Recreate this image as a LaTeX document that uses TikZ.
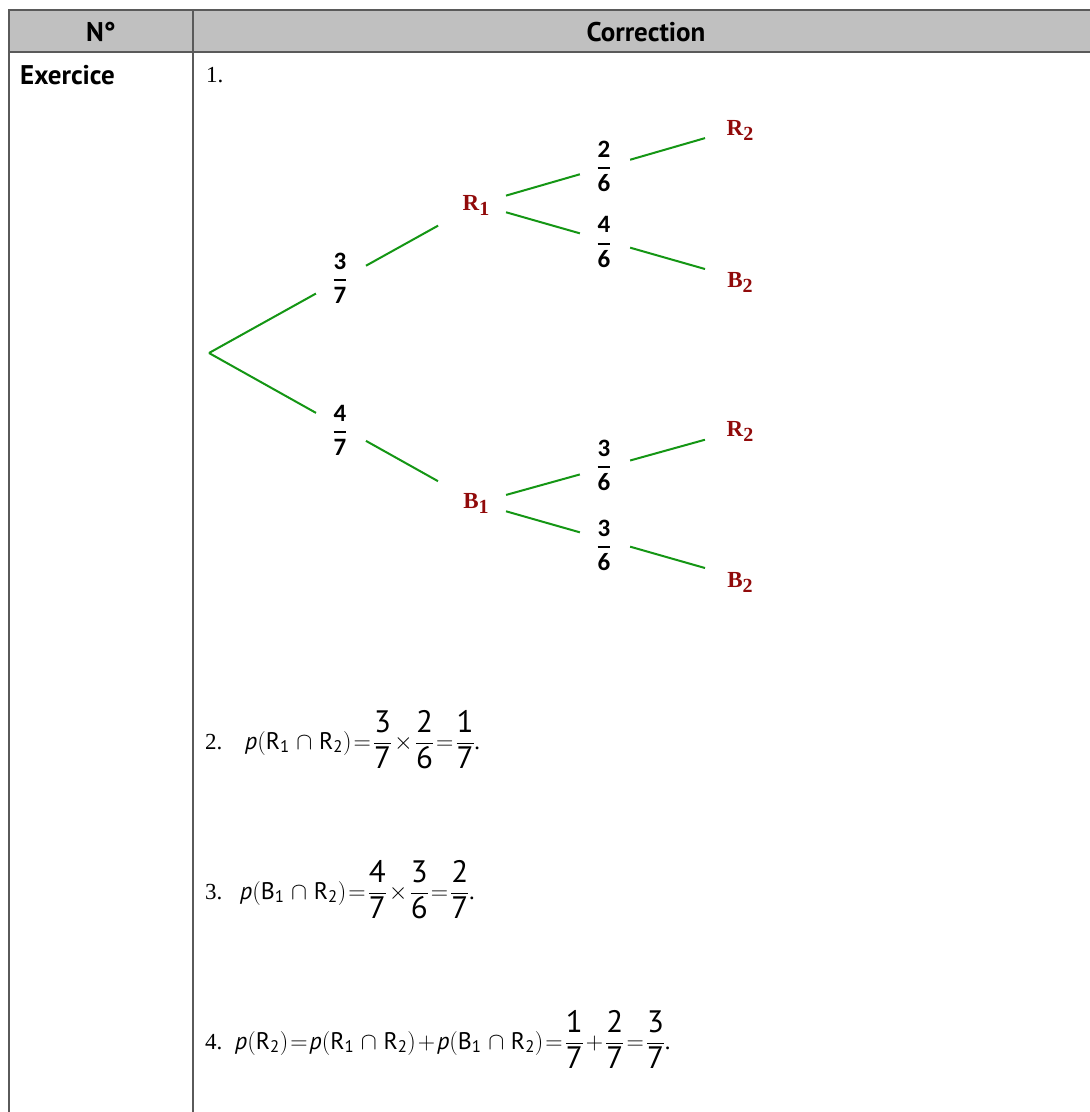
\documentclass[tikz,border=0pt]{standalone}
\usepackage{fix-cm}
\usepackage{amsmath}
\usepackage{fontspec}
\setmainfont{PT Sans}
\newfontfamily\tmsfont{Liberation Serif}
\newfontfamily\calfont{Carlito}
\definecolor{brgreen}{RGB}{20,150,20}
\definecolor{labred}{RGB}{145,10,10}
\definecolor{hdrgray}{RGB}{192,192,192}
\definecolor{bordergray}{RGB}{90,90,90}
\newcommand\Sub[2]{#1\raisebox{-5pt}{\fontsize{20}{20}\selectfont #2}}
\newcommand\pf[2]{$\genfrac{}{}{1.8pt}{0}{\text{#1}}{\text{#2}}$}
\newcommand\fr[2]{\dfrac{\text{\fontsize{31}{31}\selectfont #1}}{\text{\fontsize{31}{31}\selectfont #2}}}
\newcommand\pr{\text{\itshape p}}
\newcommand\ev[2]{\text{#1}_{\text{#2}}}
\newcommand\inter{\mskip3.5mu\cap\mskip3.5mu}
\tikzset{
  branch/.style={draw=brgreen, line width=2pt},
  gap/.style={sloped, fill=white, inner sep=0pt, minimum height=5pt},
  lbl/.style={text=labred, font=\tmsfont\bfseries\fontsize{23}{23}\selectfont, inner sep=0pt},
  prob/.style={font=\calfont\bfseries\fontsize{25}{25}\selectfont, inner sep=0pt},
  hdrtext/.style={font=\bfseries\fontsize{27}{27}\selectfont, inner sep=0pt},
  itemnum/.style={font=\tmsfont\fontsize{23}{23}\selectfont, inner sep=0pt, anchor=base west},
  formula/.style={font=\fontsize{24}{28}\selectfont, inner sep=0pt, anchor=base west,
    execute at begin node={\thickmuskip=1.5mu\medmuskip=1.5mu\thinmuskip=1mu}},
  tableline/.style={draw=bordergray, line width=1.6pt}
}
\begin{document}
\begin{tikzpicture}[x=1pt,y=-1pt]
\useasboundingbox[fill=white] (0,0) rectangle (1090,1112);
% table
\fill[hdrgray] (9,10) rectangle (1090,52);
\draw[tableline] (1090,10) -- (9,10) -- (9,1112);
\draw[tableline] (9,52) -- (1090,52);
\draw[tableline] (193,10) -- (193,1112);
\node[hdrtext] (hN) at (101,32) {N°};
\node[hdrtext] (hC) at (646,32) {Correction};
\node[hdrtext, anchor=west] (ex) at (20,75) {Exercice};
\node[itemnum, anchor=west] (one) at (206,75) {1.};
% tree points
\coordinate (root) at (209,353);
\coordinate (pR1) at (477,204);
\coordinate (pB1) at (477,503);
\coordinate (pR2a) at (740,128);
\coordinate (pB2a) at (740,279);
\coordinate (pR2b) at (740,430);
\coordinate (pB2b) at (740,578);
% branches
\draw[branch, shorten >=44.5pt] (root) -- node[gap, pos=0.4925, minimum width=57pt]{} (pR1);
\draw[branch, shorten >=44.7pt] (root) -- node[gap, pos=0.4925, minimum width=57pt]{} (pB1);
\draw[branch, shorten <=30.2pt, shorten >=36.4pt] (pR1) -- node[gap, pos=0.4867, minimum width=52pt]{} (pR2a);
\draw[branch, shorten <=30.2pt, shorten >=36.4pt] (pR1) -- node[gap, pos=0.4867, minimum width=52pt]{} (pB2a);
\draw[branch, shorten <=30.2pt, shorten >=36.4pt] (pB1) -- node[gap, pos=0.4867, minimum width=52pt]{} (pR2b);
\draw[branch, shorten <=30.2pt, shorten >=36.4pt] (pB1) -- node[gap, pos=0.4867, minimum width=52pt]{} (pB2b);
% labels
\node[lbl] (R1) at (476,205) {\Sub R1};
\node[lbl] (B1) at (476,503) {\Sub B1};
\node[lbl] (R2a) at (740,130) {\Sub R2};
\node[lbl] (B2a) at (740,282) {\Sub B2};
\node[lbl] (R2b) at (740,431) {\Sub R2};
\node[lbl] (B2b) at (740,582) {\Sub B2};
\node[prob] (f37) at (340,278) {\pf37};
\node[prob] (f47) at (340,430) {\pf47};
\node[prob] (f26) at (604,166) {\pf26};
\node[prob] (f46) at (604,242) {\pf46};
\node[prob] (f36a) at (604,465) {\pf36};
\node[prob] (f36b) at (604,545) {\pf36};
% answers
\node[itemnum] (n2) at (205,749) {2.};
\node[formula] (q2) at (245,749) {$\pr(\ev R1\inter\ev R2)=\fr37\times\fr26=\fr17$.};
\node[itemnum] (n3) at (205,899) {3.};
\node[formula] (q3) at (240,899) {$\pr(\ev B1\inter\ev R2)=\fr47\times\fr36=\fr27$.};
\node[itemnum] (n4) at (205,1049) {4.};
\node[formula] (q4) at (235,1049) {$\pr(\ev R2)=\pr(\ev R1\inter\ev R2)+\pr(\ev B1\inter\ev R2)=\fr17+\fr27=\fr37$.};
\end{tikzpicture}
\end{document}
